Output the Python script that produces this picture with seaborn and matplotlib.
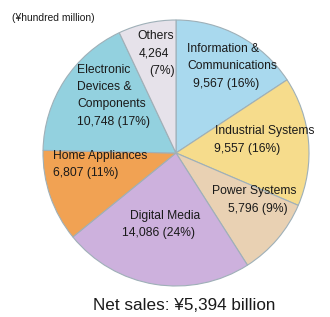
import matplotlib
matplotlib.use("Agg")
import matplotlib.pyplot as plt
import seaborn as sns

sns.set_theme(style="white")
plt.rcParams['font.family'] = ['Liberation Sans Narrow', 'Liberation Sans', 'DejaVu Sans']

segments = ["Information & Communications", "Industrial Systems", "Power Systems",
            "Digital Media", "Home Appliances", "Electronic Devices & Components", "Others"]
values = [9567, 9557, 5796, 14086, 6807, 10748, 4264]
percents = [16, 16, 9, 24, 11, 17, 7]
colors = ["#a9d9ee", "#f6dc8c", "#e9d1b3", "#cdb1dd", "#f1a253", "#93d1df", "#e6e2ea"]

fig = plt.figure(figsize=(3.3, 3.17), dpi=100)

pax = fig.add_axes([0, 0, 1, 1])
pax.pie(values, colors=colors, startangle=90, counterclock=False,
        center=(176, 317 - 153), radius=133,
        wedgeprops=dict(edgecolor="#9fb0b8", linewidth=0.8))
pax.set_xlim(0, 330)
pax.set_ylim(0, 317)
pax.set_aspect('equal')
pax.axis('off')

ax = fig.add_axes([0, 0, 1, 1])
ax.set_xlim(0, 330)
ax.set_ylim(317, 0)
ax.set_aspect('equal')
ax.axis('off')
ax.patch.set_alpha(0)

def fmt(v, p):
    return f"{v:,} ({p}%)"

fs = 8.7
tc = "#1a1a1a"
ax.text(12, 18, "(¥hundred million)", fontsize=7.4, color=tc, va='center', ha='left')

# Others
ax.text(137, 36, "Others", fontsize=fs, color=tc, va='center')
ax.text(139, 53, f"{values[6]:,}", fontsize=fs, color=tc, va='center')
ax.text(149, 71, f"({percents[6]}%)", fontsize=fs, color=tc, va='center')

# Information & Communications
ax.text(187, 49, "Information &", fontsize=fs, color=tc, va='center')
ax.text(187, 66, "Communications", fontsize=fs, color=tc, va='center')
ax.text(193, 84, fmt(values[0], percents[0]), fontsize=fs, color=tc, va='center')

# Electronic Devices & Components
for i, line in enumerate(["Electronic", "Devices &", "Components",
                          fmt(values[5], percents[5])]):
    ax.text(77, 70 + i * 17.2, line, fontsize=fs, color=tc, va='center')

# Industrial Systems
ax.text(215, 131, "Industrial Systems", fontsize=fs, color=tc, va='center')
ax.text(214, 149, fmt(values[1], percents[1]), fontsize=fs, color=tc, va='center')

# Power Systems
ax.text(212, 191, "Power Systems", fontsize=fs, color=tc, va='center')
ax.text(228, 209, fmt(values[2], percents[2]), fontsize=fs, color=tc, va='center')

# Digital Media
ax.text(130, 216, "Digital Media", fontsize=fs, color=tc, va='center')
ax.text(122, 233, fmt(values[3], percents[3]), fontsize=fs, color=tc, va='center')

# Home Appliances
ax.text(53, 156, "Home Appliances", fontsize=fs, color=tc, va='center')
ax.text(53, 173, fmt(values[4], percents[4]), fontsize=fs, color=tc, va='center')

ax.text(184, 305, "Net sales: ¥5,394 billion", fontsize=12.3, color=tc,
        va='center', ha='center', family=['Liberation Sans', 'DejaVu Sans'])

fig.savefig("out.png", dpi=100)
